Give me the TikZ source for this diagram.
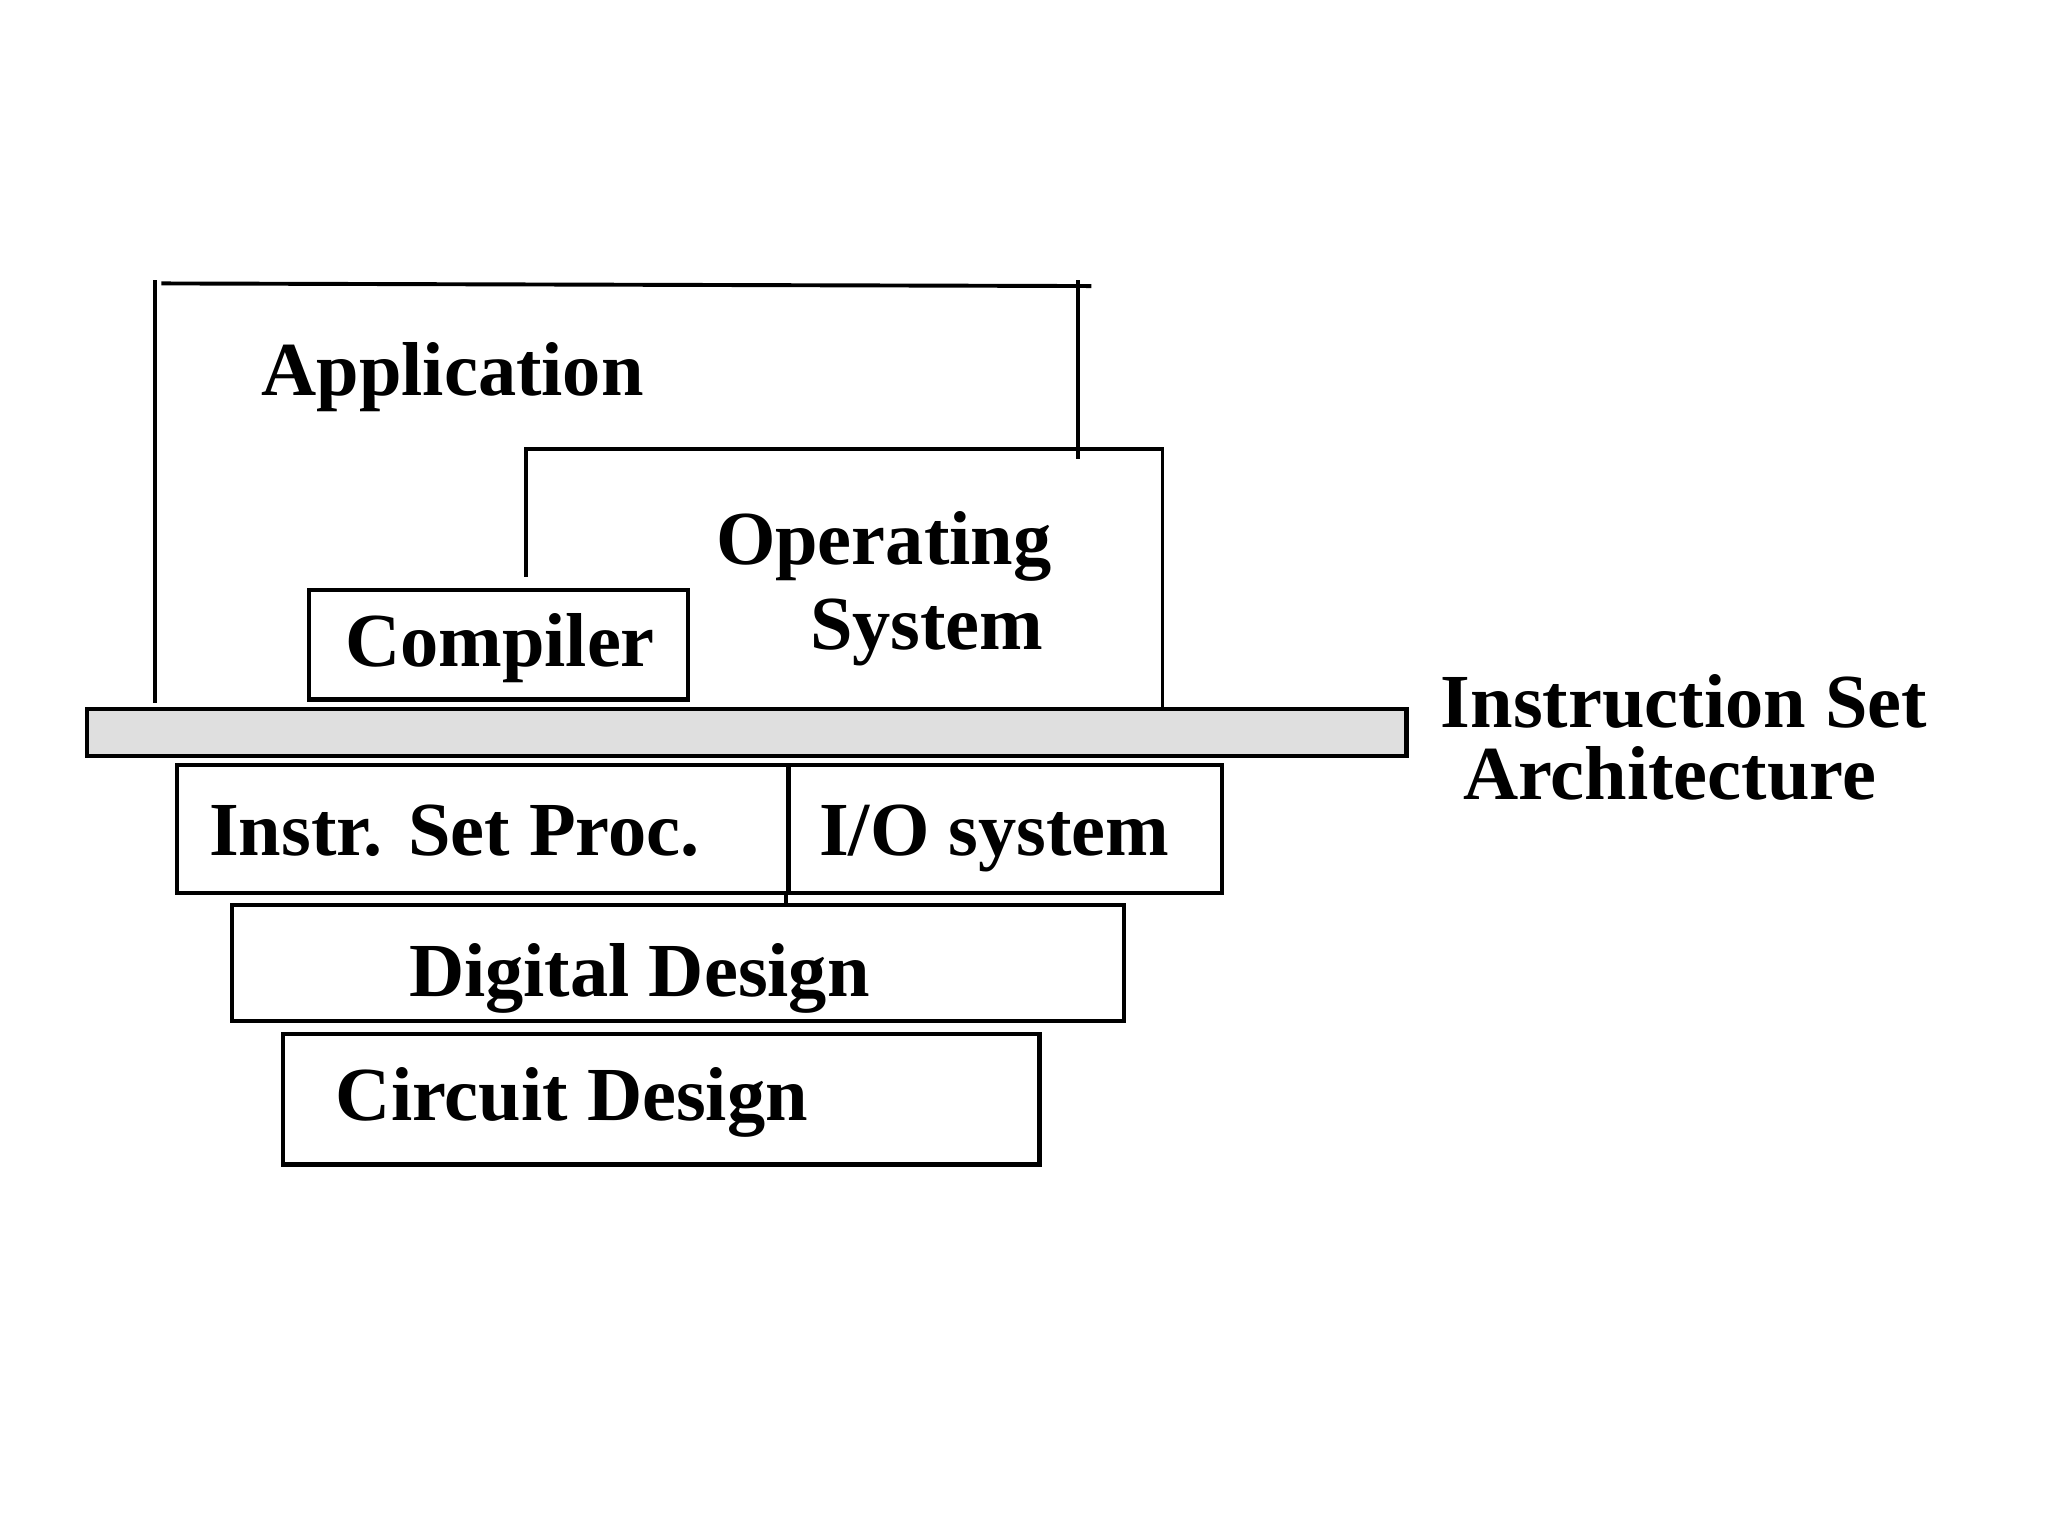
\documentclass[tikz,border=0pt]{standalone}
\usepackage{fontspec}
\setmainfont{Liberation Serif}
\begin{document}
\begin{tikzpicture}[x=1pt,y=-1pt,
  line/.style={line width=3pt,line cap=rect},
  box/.style={draw,line width=3.4pt,inner sep=0pt,anchor=north west},
  lbl/.style={font=\fontsize{58.5}{62}\selectfont\bfseries,inner sep=0pt,anchor=base west}]
\useasboundingbox[fill=white] (0,0) rectangle (1568,1176);
% Application outline
\coordinate (apptl) at (119,216);
\coordinate (appbl) at (119,537);
\coordinate (apptl2) at (125,217);
\coordinate (apptr) at (834,219);
\coordinate (apprt) at (825,216);
\coordinate (apprb) at (825,350);
\draw[line] (apptl) -- (appbl);
\draw[line] (apptl2) -- (apptr);
\draw[line] (apprt) -- (apprb);
% Operating system outline
\coordinate (ostl) at (403,344);
\coordinate (ostr) at (887,344);
\coordinate (oslb) at (403,440);
\coordinate (osrt) at (890,344);
\coordinate (osrb) at (890,540);
\draw[line] (oslb) -- (ostl) -- (ostr);
\draw[line] (osrt) -- (osrb);
% boxes
\node[box,minimum width=290pt,minimum height=84pt] (comp) at (235,450) {};
\node[box,fill=gray!25,minimum width=1010pt,minimum height=36pt] (isa) at (65,541) {};
\node[box,minimum width=468pt,minimum height=98pt] (isp) at (134,584) {};
\node[box,minimum width=332pt,minimum height=98pt] (io) at (602,584) {};
\node[box,minimum width=683pt,minimum height=89pt] (dig) at (176,691) {};
\node[box,minimum width=579pt,minimum height=100pt] (circ) at (215,790) {};
\draw[line width=3pt] (io.south west) -- (io.south west |- dig.north);
% labels
\node[lbl] (tapp) at (200,303) {Application};
\node[lbl] (tos1) at (548,432) {Operating};
\node[lbl] (tos2) at (620,497) {System};
\node[lbl] (tcomp) at (264,510) {Compiler};
\node[lbl] (tisa1) at (1103,557) {Instruction Set};
\node[lbl] (tisa2) at (1120,612) {Architecture};
\node[lbl] (tisp) at (160,655) {Instr. Set Proc.};
\node[lbl] (tio) at (627,655) {I/O system};
\node[lbl] (tdig) at (313,763) {Digital Design};
\node[lbl] (tcirc) at (257,858) {Circuit Design};
\end{tikzpicture}
\end{document}
